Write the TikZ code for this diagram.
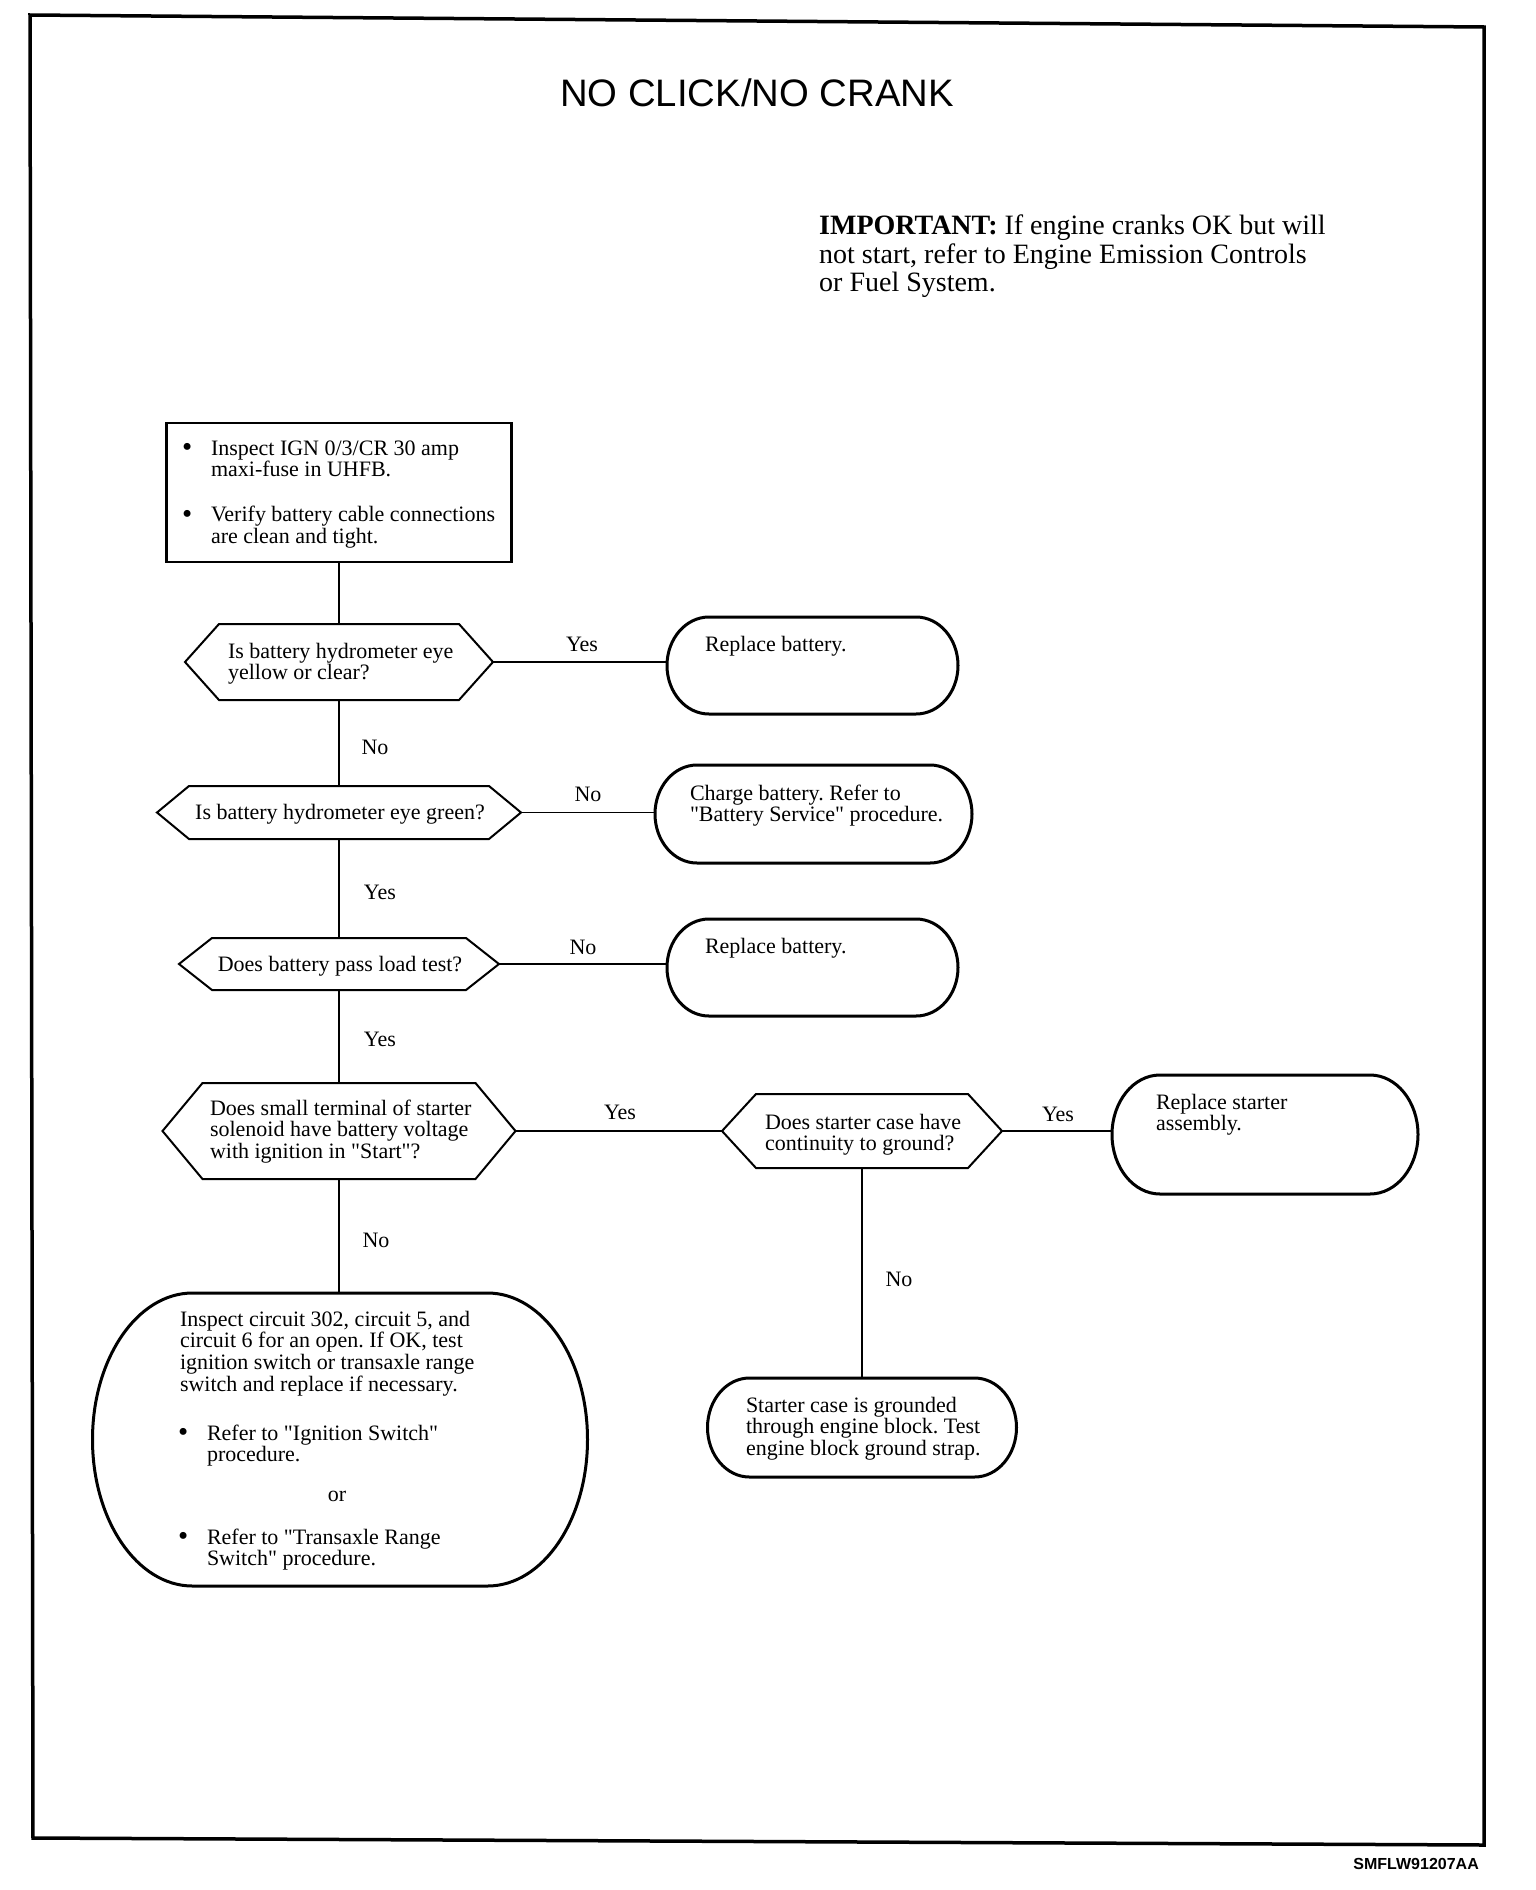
\documentclass[tikz,border=0pt]{standalone}
\usepackage{fontspec}
\setmainfont{Liberation Serif}
\newfontfamily\titlefont{Liberation Sans}
\frenchspacing
\newcommand{\qt}{\XeTeXglyph\XeTeXcharglyph"22\relax}
\newcommand{\bul}{\raisebox{-1.5pt}{\fontsize{29}{21}\selectfont\textbullet}}
\newcommand{\hexshape}[2]{\draw[hexline] (#1.west) -- ([xshift=#2pt]#1.north west) -- ([xshift=-#2pt]#1.north east) -- (#1.east) -- ([xshift=-#2pt]#1.south east) -- ([xshift=#2pt]#1.south west) -- cycle;}
\newcommand{\stadshape}[3]{\draw[rbline] ([xshift=#2pt]#1.north west) -- ([xshift=-#2pt]#1.north east) arc[start angle=90, end angle=-90, x radius=#2pt, y radius=#3pt] -- ([xshift=#2pt]#1.south west) arc[start angle=270, end angle=90, x radius=#2pt, y radius=#3pt] -- cycle;}
\begin{document}
\frenchspacing
\begin{tikzpicture}[x=1pt,y=-1pt,
  shapebox/.style={rectangle, draw=none, inner sep=0pt, outer sep=0pt},
  boxline/.style={line width=2.3pt},
  hexline/.style={line width=2pt, line join=miter},
  rbline/.style={line width=3pt},
  conn/.style={line width=1.8pt},
  frameline/.style={line width=3.5pt, line join=miter},
  txt/.style={inner sep=0pt, outer sep=0pt, font=\fontsize{22}{21.4}\selectfont\frenchspacing, anchor=base west},
  lbl/.style={inner sep=0pt, outer sep=0pt, font=\fontsize{22}{21.4}\selectfont, anchor=base}]
\useasboundingbox (0,0) rectangle (1536,1890);

% frame
\draw[frameline] (30,15) -- (1484,27) -- (1484,1845) -- (33,1838) -- cycle;

% title and note
\node[anchor=base, inner sep=0pt, font=\titlefont\fontsize{38.3}{40}\selectfont] (title) at (757,106) {NO CLICK/NO CRANK};
\node[anchor=base west, inner sep=0pt, font=\fontsize{28}{28.6}\selectfont\frenchspacing] (imp) at (819,234.5)
  {\begin{tabular}[t]{@{}l@{}}\textbf{IMPORTANT:} If engine cranks OK but will\\ not start, refer to Engine Emission Controls\\ or Fuel System.\end{tabular}};

% shapes
\node[shapebox, draw, boxline, minimum width=345pt, minimum height=139pt] (b1) at (339,492.5) {};
\node[shapebox, minimum width=308pt, minimum height=76pt] (h1) at (339,662) {};
\node[shapebox, minimum width=364pt, minimum height=53pt] (h2) at (339,812.5) {};
\node[shapebox, minimum width=320pt, minimum height=52pt] (h3) at (339,964) {};
\node[shapebox, minimum width=353pt, minimum height=96pt] (h4) at (339,1131) {};
\node[shapebox, minimum width=280pt, minimum height=74pt] (h5) at (862,1131) {};
\hexshape{h1}{34}
\hexshape{h2}{32}
\hexshape{h3}{33}
\hexshape{h4}{40}
\hexshape{h5}{34}

\node[shapebox, minimum width=291pt, minimum height=97pt] (r1) at (812.5,665.5) {};
\node[shapebox, minimum width=317pt, minimum height=98pt] (r2) at (813.5,814) {};
\node[shapebox, minimum width=291pt, minimum height=97pt] (r3) at (812.5,967.5) {};
\node[shapebox, minimum width=306pt, minimum height=119pt] (r4) at (1265,1134.5) {};
\node[shapebox, minimum width=309pt, minimum height=99pt] (r5) at (862,1427.5) {};
\node[shapebox, minimum width=495pt, minimum height=293pt] (r6) at (340,1439.5) {};
\stadshape{r1}{42}{48.5}
\stadshape{r2}{42}{49}
\stadshape{r3}{42}{48.5}
\stadshape{r4}{48}{59.5}
\stadshape{r5}{42}{49.5}
\stadshape{r6}{100}{146.5}

% connectors
\draw[conn] (b1.south) -- (h1.north);
\draw[conn] (h1.south) -- (h2.north);
\draw[conn] (h2.south) -- (h3.north);
\draw[conn] (h3.south) -- (h4.north);
\draw[conn] (h4.south) -- (h4.south |- r6.north);
\draw[conn] (h1.east) -- (h1.east -| r1.west);
\draw[conn] (h2.east) -- (h2.east -| r2.west);
\draw[conn] (h3.east) -- (h3.east -| r3.west);
\draw[conn] (h4.east) -- (h5.west);
\draw[conn] (h5.east) -- (h5.east -| r4.west);
\draw[conn] (h5.south) -- (h5.south |- r5.north);

% texts
\node[txt] (b1t) at (182,455) {\begin{tabular}[t]{@{}l@{}l@{}}\makebox[29pt][l]{\bul} & Inspect IGN 0/3/CR 30 amp\\ & maxi-fuse in UHFB.\\[23pt] \bul & Verify battery cable connections\\ & are clean and tight.\end{tabular}};
\node[txt] (h1t) at (228,658) {\begin{tabular}[t]{@{}l@{}}Is battery hydrometer eye\\ yellow or clear?\end{tabular}};
\node[lbl] (h2t) at (340,819) {Is battery hydrometer eye green?};
\node[lbl] (h3t) at (340,971) {Does battery pass load test?};
\node[txt] (h4t) at (210,1115) {\begin{tabular}[t]{@{}l@{}}Does small terminal of starter\\ solenoid have battery voltage\\ with ignition in \qt Start\qt?\end{tabular}};
\node[txt] (h5t) at (765,1129) {\begin{tabular}[t]{@{}l@{}}Does starter case have\\ continuity to ground?\end{tabular}};
\node[txt] (r1t) at (705,651) {Replace battery.};
\node[txt] (r2t) at (690,800) {\begin{tabular}[t]{@{}l@{}}Charge battery. Refer to\\ \qt Battery Service\qt{} procedure.\end{tabular}};
\node[txt] (r3t) at (705,953) {Replace battery.};
\node[txt] (r4t) at (1156,1109) {\begin{tabular}[t]{@{}l@{}}Replace starter\\ assembly.\end{tabular}};
\node[txt] (r5t) at (746,1412) {\begin{tabular}[t]{@{}l@{}}Starter case is grounded\\ through engine block. Test\\ engine block ground strap.\end{tabular}};
\node[txt] (r6t) at (180,1326) {\begin{tabular}[t]{@{}l@{}}Inspect circuit 302, circuit 5, and\\ circuit 6 for an open. If OK, test\\ ignition switch or transaxle range\\ switch and replace if necessary.\end{tabular}};
\node[txt] (r6b1) at (178,1440) {\begin{tabular}[t]{@{}l@{}l@{}}\makebox[29pt][l]{\bul} & Refer to \qt Ignition Switch\qt\\ & procedure.\end{tabular}};
\node[lbl] (r6or) at (337,1501) {or};
\node[txt] (r6b2) at (178,1544) {\begin{tabular}[t]{@{}l@{}l@{}}\makebox[29pt][l]{\bul} & Refer to \qt Transaxle Range\\ & Switch\qt{} procedure.\end{tabular}};

% labels
\node[lbl] (l1) at (582,651) {Yes};
\node[lbl] (l2) at (375,754) {No};
\node[lbl] (l3) at (588,801) {No};
\node[lbl] (l4) at (380,899) {Yes};
\node[lbl] (l5) at (583,954) {No};
\node[lbl] (l6) at (380,1046) {Yes};
\node[lbl] (l7) at (620,1119) {Yes};
\node[lbl] (l8) at (1058,1121) {Yes};
\node[lbl] (l9) at (376,1247) {No};
\node[lbl] (l10) at (899,1286) {No};

% footer code
\node[anchor=base east, inner sep=0pt, font=\titlefont\bfseries\fontsize{16}{17}\selectfont] (code) at (1479,1869) {SMFLW91207AA};
\end{tikzpicture}
\end{document}
